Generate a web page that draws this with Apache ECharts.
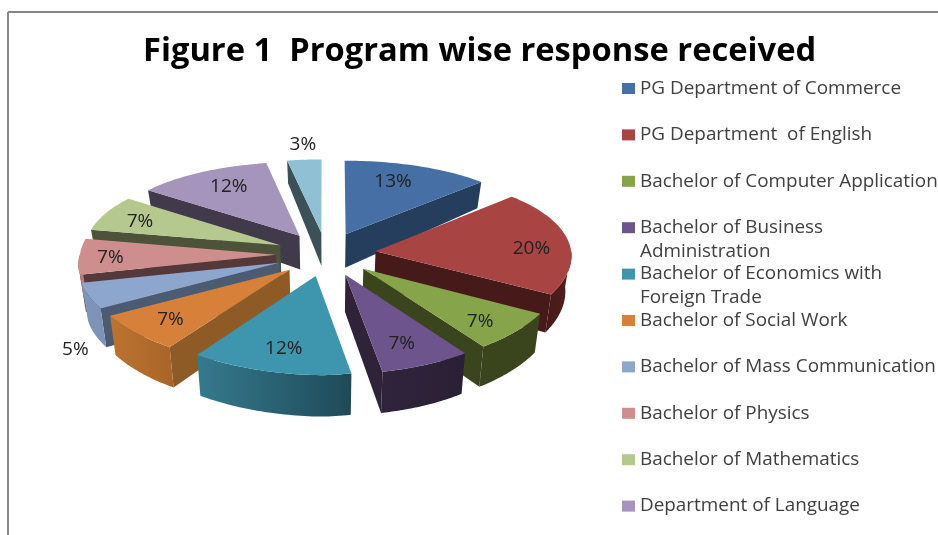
<!DOCTYPE html>
<html>
<head>
<meta charset="utf-8">
<style>
  html, body { margin: 0; padding: 0; background: #fff; overflow: hidden; }
  #main { width: 938px; height: 535px; }
</style>
<script src="https://cdn.jsdelivr.net/npm/echarts@6/dist/echarts.min.js"></script>
</head>
<body>
<div id="main"></div>
<script>
const categories = [
  "PG Department of Commerce",
  "PG Department  of English",
  "Bachelor of Computer Application",
  "Bachelor of Business\nAdministration",
  "Bachelor of Economics with\nForeign Trade",
  "Bachelor of Social Work",
  "Bachelor of Mass Communication",
  "Bachelor of Physics",
  "Bachelor of Mathematics",
  "Department of Language",
  "Other"
];
const responses = [13, 20, 7, 7, 12, 7, 5, 7, 7, 12, 3];
// the last slice has no legend row in the picture, its row falls off the frame
const legendCount = 10;

const topColors = ["#456FA5", "#A84442", "#86A44A", "#6E548D", "#3D96AE", "#D6803A", "#8CA6CE", "#CE8E8D", "#B5C98E", "#A594BC", "#8FC0D4"];
const sideColors = ["#263E5E", "#451A18", "#3A451E", "#2E2339", "#347082", "#8E5A26", "#4A5B72", "#55393A", "#4C5338", "#413A4B", "#3C5058"];
const rimColors = [
  ["#263E5E", "#263E5E"], ["#451A18", "#541F1D"], ["#3A451E", "#3A451E"], ["#30243C", "#2A2035"],
  ["#357A8E", "#1E4A58"], ["#BC7330", "#A86528"], ["#7F96BA", "#7B92B5"], ["#B07A78", "#B07A78"],
  ["#8FA06E", "#8FA06E"], ["#84769A", "#84769A"], ["#6E98A8", "#6E98A8"]
];
const labelShift = [[-5.5, -2], [17, 5], [8, 8], [-1, 6], [-0.5, 5], [-10, 5], [-68, 63], [-24, 1], [-14, 0], [1, -2], [-6, -34]];

const centerX = 326, centerY = 254;
const radius = 196, explode = 50, tilt = 0.44, perspectiveX = 0.05, perspectiveY = 0.1, shear = 0.015, depth = 36;
const labelFont = "Open Sans";

const total = responses.reduce((a, b) => a + b, 0);

function project(gx, gy) {
  const sx = 1 + perspectiveX * gy / radius;
  const sy = 1 + perspectiveY * gy / radius;
  let x = centerX + gx * sx - (gy > 0 ? shear * gy : 0);
  let y = centerY + gy * tilt * sy;
  // the front left part of the reference pie leans outwards and up a little
  if (gx < 0 && gy > 0) {
    x += 0.04 * gx * gy / radius;
    y += 0.03 * gx * gy / radius;
  }
  return [x, y];
}

function projectBottom(gx, gy) {
  const p = project(gx, gy);
  const c = gy < 0 ? 0.3 : 0.12;
  return [centerX + (p[0] - centerX) * 0.975, p[1] + depth * (1 + c * gy / radius)];
}

function renderSlice(index, startDeg, endDeg) {
  return function (params, api) {
    const midDeg = (startDeg + endDeg) / 2;
    const mid = midDeg * Math.PI / 180;
    const ox = Math.sin(mid) * explode;
    const oy = -Math.cos(mid) * explode;
    const ground = deg => {
      const a = deg * Math.PI / 180;
      return [ox + Math.sin(a) * radius, oy - Math.cos(a) * radius];
    };

    const children = [];
    const sideWall = deg => {
      const g = ground(deg);
      children.push({
        type: "polygon",
        shape: { points: [project(ox, oy), project(g[0], g[1]), projectBottom(g[0], g[1]), projectBottom(ox, oy)] },
        style: { fill: sideColors[index] }
      });
    };
    // a cut face shows only when it looks towards the viewer
    if (Math.cos((startDeg - 90) * Math.PI / 180) < 0) sideWall(startDeg);
    if (Math.cos((endDeg + 90) * Math.PI / 180) < 0) sideWall(endDeg);

    const rimFrom = Math.max(startDeg, 90);
    const rimTo = Math.min(endDeg, 270);
    if (rimFrom < rimTo) {
      const upper = [], lower = [];
      for (let d = rimFrom; d <= rimTo + 0.001; d += (rimTo - rimFrom) / 40) {
        const g = ground(d);
        upper.push(project(g[0], g[1]));
        lower.unshift(projectBottom(g[0], g[1]));
      }
      children.push({
        type: "polygon",
        shape: { points: upper.concat(lower) },
        style: {
          fill: new echarts.graphic.LinearGradient(0, 0, 1, 0, [
            { offset: 0, color: rimColors[index][0] },
            { offset: 1, color: rimColors[index][1] }
          ])
        }
      });
    }

    const top = [project(ox, oy)];
    for (let d = startDeg; d <= endDeg + 0.001; d += (endDeg - startDeg) / 40) {
      const g = ground(d);
      top.push(project(g[0], g[1]));
    }
    children.push({ type: "polygon", shape: { points: top }, style: { fill: topColors[index] } });

    const labelG = [ox + Math.sin(mid) * radius * 0.72, oy - Math.cos(mid) * radius * 0.72];
    const labelP = project(labelG[0], labelG[1]);
    children.push({
      type: "text",
      style: {
        text: api.value(0) + "%",
        x: labelP[0] + labelShift[index][0],
        y: labelP[1] + labelShift[index][1],
        fill: "#222",
        fontFamily: labelFont,
        fontSize: 19,
        align: "center",
        verticalAlign: "middle"
      }
    });
    return { type: "group", children: children };
  };
}

let running = 0;
const series = responses.map((value, i) => {
  const startDeg = running / total * 360;
  running += value;
  const endDeg = running / total * 360;
  const midDeg = (startDeg + endDeg) / 2;
  return {
    type: "custom",
    name: categories[i],
    coordinateSystem: "none",
    // painter's order: slices further back are drawn first
    z: 10 - Math.cos(midDeg * Math.PI / 180),
    itemStyle: { color: topColors[i] },
    renderItem: renderSlice(i, startDeg, endDeg),
    data: [[value]],
    silent: true
  };
});

const legendText = { color: "#404040", fontFamily: labelFont, fontSize: 18.9, lineHeight: 24 };

const legends = categories.slice(0, legendCount).map((name, i) => {
  const twoLines = name.indexOf("\n") >= 0;
  const legend = {
    data: [{ name: name, itemStyle: { color: topColors[i] } }],
    orient: "vertical",
    left: 622,
    top: 88.5 + i * 46.4 - (twoLines ? 36 : 12),
    padding: 0,
    icon: "rect",
    itemWidth: 13,
    itemHeight: 11,
    selectedMode: false,
    textStyle: legendText
  };
  if (twoLines) {
    // rich text so the first line sits level with the swatch
    legend.formatter = n => n.split("\n").map(line => "{a|" + line + "}").join("\n");
    legend.textStyle = Object.assign({}, legendText, { padding: [24, 0, 0, 0], rich: { a: legendText } });
  }
  return legend;
});

const chart = echarts.init(document.getElementById("main"));
chart.setOption({
  animation: false,
  backgroundColor: "#fff",
  title: {
    text: "Figure 1  Program wise response received",
    left: 143,
    top: 35,
    padding: 0,
    textStyle: { color: "#000", fontFamily: labelFont, fontSize: 32.7, fontWeight: "bold" }
  },
  graphic: [
    { type: "line", shape: { x1: 8, y1: 12, x2: 938, y2: 12 }, style: { stroke: "#868686", lineWidth: 2 } },
    { type: "line", shape: { x1: 8, y1: 12, x2: 8, y2: 535 }, style: { stroke: "#868686", lineWidth: 2 } }
  ],
  legend: legends,
  series: series
});
</script>
</body>
</html>
